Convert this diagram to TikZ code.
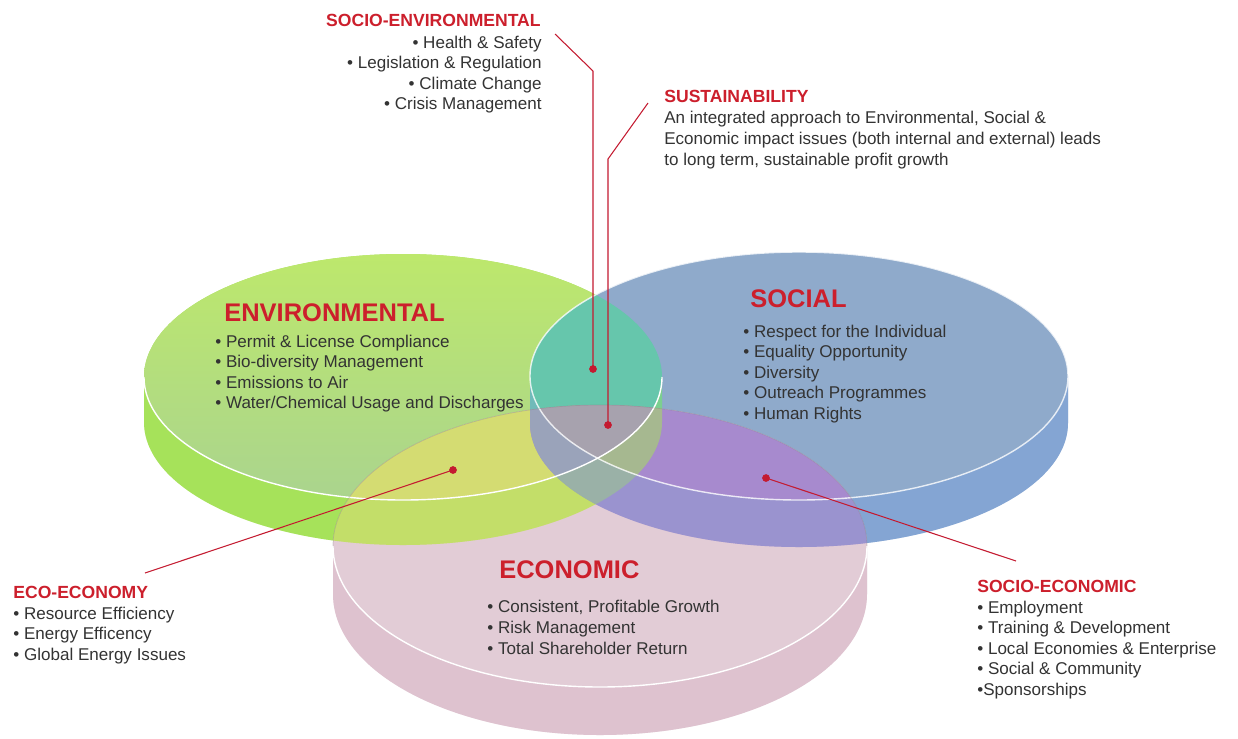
\documentclass[tikz,border=0pt]{standalone}
\usepackage{fontspec}
\setmainfont{Liberation Sans}

\definecolor{envhigh}{HTML}{BDE86C}
\definecolor{envface}{HTML}{AAD48E}
\definecolor{envside}{HTML}{A6E25A}
\definecolor{socface}{HTML}{8FAACB}
\definecolor{socside}{HTML}{84A5D3}
\definecolor{ecoface}{HTML}{E2CCD6}
\definecolor{ecoside}{HTML}{DEC2CF}
\definecolor{envsoc}{HTML}{66C6AC}
\definecolor{enveco}{HTML}{D4DC72}
\definecolor{soceco}{HTML}{A78ACE}
\definecolor{allthree}{HTML}{A7A2AE}
\definecolor{headred}{HTML}{CC1F2C}
\definecolor{linkred}{HTML}{C41A30}
\definecolor{bodygray}{HTML}{333333}

% disk = top face + side band
\newcommand{\diskface}[4]{(#1,#2) ellipse [x radius=#3, y radius=#4]}
\newcommand{\diskbody}[5]{({#1-#3},#2) -- ++(0,#5) arc [start angle=180, end angle=0, x radius=#3, y radius=#4] -- ++(0,-#5) arc [start angle=0, end angle=-180, x radius=#3, y radius=#4] -- cycle}
\newcommand{\diskside}[5]{({#1-#3},#2) -- ++(0,#5) arc [start angle=180, end angle=0, x radius=#3, y radius=#4] -- ++(0,-#5) arc [start angle=0, end angle=180, x radius=#3, y radius=#4] -- cycle}
\newcommand{\diskrim}[4]{({#1-#3},#2) arc [start angle=180, end angle=0, x radius=#3, y radius=#4]}
\newcommand{\diskback}[4]{({#1-#3},#2) arc [start angle=180, end angle=360, x radius=#3, y radius=#4]}

\newcommand{\envface}{\diskface{403}{377}{259}{123}}
\newcommand{\envbody}{\diskbody{403}{377}{259}{123}{45}}
\newcommand{\envside}{\diskside{403}{377}{259}{123}{45}}
\newcommand{\socface}{\diskface{799}{376}{269}{124}}
\newcommand{\socbody}{\diskbody{799}{376}{269}{124}{47}}
\newcommand{\socside}{\diskside{799}{376}{269}{124}{47}}
\newcommand{\ecoface}{\diskface{600}{546}{267}{141}}
\newcommand{\ecobody}{\diskbody{600}{546}{267}{141}{48}}
\newcommand{\ecoside}{\diskside{600}{546}{267}{141}{48}}

\tikzset{
  title/.style={font=\fontsize{14.5}{17}\selectfont\bfseries, text=headred, inner sep=0pt, anchor=base west},
  head/.style={font=\fontsize{10}{12}\selectfont\bfseries, text=headred, inner sep=0pt, anchor=base west},
  item/.style={font=\fontsize{9.7}{11.7}\selectfont, text=bodygray, inner sep=0pt, anchor=base west},
  rim/.style={draw=white, line width=0.8pt},
  link/.style={draw=linkred, line width=0.6pt},
  dot/.style={circle, fill=linkred, inner sep=0pt, minimum size=4.4pt},
}

\begin{document}
\begin{tikzpicture}[x=0.02cm, y=-0.02cm]
\useasboundingbox (0,0) rectangle (1238,738);
\fill[white] (0,0) rectangle (1238,738);

% the three disks
\fill[envside] \envbody;
\shade[top color=envhigh, bottom color=envface] \envface;
\fill[socside] \socbody;
\fill[socface] \socface;
\fill[ecoside] \ecobody;
\fill[ecoface] \ecoface;

% overlaps
\begin{scope}
  \clip \envbody;
  \fill[envsoc] \socbody;
  \fill[enveco] \ecobody;
\end{scope}
\begin{scope}
  \clip \socbody;
  \fill[soceco] \ecobody;
\end{scope}
\begin{scope}
  \clip \envbody;
  \clip \socbody;
  \fill[allthree] \ecobody;
\end{scope}
\fill[envside, opacity=.35] \envside;
\fill[socside, opacity=.35] \socside;
\fill[ecoside, opacity=.35] \ecoside;

% rims
\draw[rim] \diskrim{403}{377}{259}{123};
\draw[rim, opacity=.8] \socface;
\draw[draw=gray, opacity=.35, line width=0.4pt] \diskback{600}{546}{267}{141};
\draw[rim] \diskrim{600}{546}{267}{141};

% titles on the disks
\node[title] (envtitle) at (224,321) {ENVIRONMENTAL};
\foreach [count=\i] \t in {Permit \& License Compliance, Bio-diversity Management, Emissions to Air, Water/Chemical Usage and Discharges}
  \node[item] (envitem\i) at (215,{347+20.5*(\i-1)}) {• \t};

\node[title] (soctitle) at (750,307) {SOCIAL};
\foreach [count=\i] \t in {Respect for the Individual, Equality Opportunity, Diversity, Outreach Programmes, Human Rights}
  \node[item] (socitem\i) at (743,{337+20.5*(\i-1)}) {• \t};

\node[title] (ecotitle) at (499,578) {ECONOMIC};
\foreach [count=\i] \t in {{Consistent, Profitable Growth}, Risk Management, Total Shareholder Return}
  \node[item] (ecoitem\i) at (487,{612+21*(\i-1)}) {• \t};

% outer labels
\node[head, anchor=base east] (senvhead) at (541,26.5) {SOCIO-ENVIRONMENTAL};
\foreach [count=\i] \t in {Health \& Safety, Legislation \& Regulation, Climate Change, Crisis Management}
  \node[item, anchor=base east] (senvitem\i) at (542,{48+20.5*(\i-1)}) {• \t};

\node[head] (susthead) at (664,102.5) {SUSTAINABILITY};
\foreach [count=\i] \t in {{An integrated approach to Environmental, Social \&}, Economic impact issues (both internal and external) leads, {to long term, sustainable profit growth}}
  \node[item] (sustline\i) at (664,{123+21*(\i-1)}) {\t};

\node[head] (ecoecohead) at (13,598.5) {ECO-ECONOMY};
\foreach [count=\i] \t in {Resource Efficiency, Energy Efficency, Global Energy Issues}
  \node[item] (ecoecoitem\i) at (13,{619+20.5*(\i-1)}) {• \t};

\node[head] (secohead) at (977,592.5) {SOCIO-ECONOMIC};
\foreach [count=\i] \t in {• Employment, • Training \& Development, • Local Economies \& Enterprise, • Social \& Community, •Sponsorships}
  \node[item] (secoitem\i) at (977,{613+20.5*(\i-1)}) {\t};

% pointers
\node[dot] (senvdot) at (593,369) {};
\node[dot] (sustdot) at (608,425) {};
\node[dot] (ecoecodot) at (453,470) {};
\node[dot] (secodot) at (766,478) {};
\coordinate (senvstart) at (555,34);
\coordinate (senvbend) at (593,71);
\coordinate (suststart) at (648,103);
\coordinate (sustbend) at (608,159);
\coordinate (ecoecoend) at (145,573);
\coordinate (secoend) at (1016,561);

\draw[link] (senvstart) -- (senvbend) -- (senvdot.center);
\draw[link] (suststart) -- (sustbend) -- (sustdot.center);
\draw[link] (ecoecodot.center) -- (ecoecoend);
\draw[link] (secodot.center) -- (secoend);
\end{tikzpicture}
\end{document}
